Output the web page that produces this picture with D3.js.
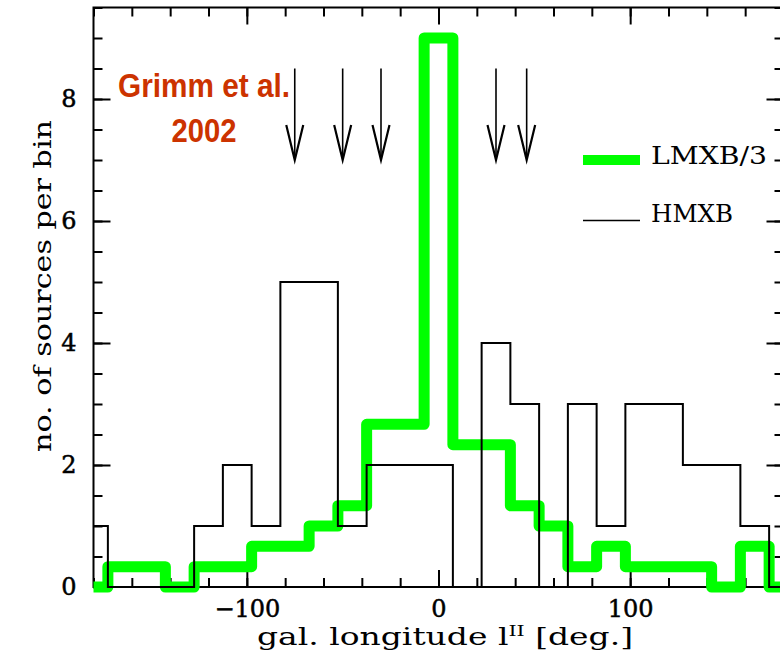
<!DOCTYPE html>
<html>
<head>
<meta charset="utf-8">
<script src="https://cdn.jsdelivr.net/npm/d3@7"></script>
<style>
  body { margin: 0; background: #fff; }
  svg { display: block; }
  .tick text { font-family: "DejaVu Serif", serif; font-size: 24px; fill: #000; stroke: #000; stroke-width: 0.5; }
  .tick line { stroke: #000; stroke-width: 2; }
  .label { font-family: "DejaVu Serif", serif; font-size: 24px; fill: #000; }
</style>
</head>
<body>
<svg width="780" height="661"></svg>
<script>
// bin centres in galactic longitude (deg), bins 15 deg wide
const binCenters = [-180, -165, -150, -135, -120, -105, -90, -75, -60, -45, -30, -15,
                    0, 15, 30, 45, 60, 75, 90, 105, 120, 135, 150, 165, 180];
// number of LMXB per bin (plotted divided by 3)
const lmxbCounts = [0, 1, 1, 0, 1, 1, 2, 2, 3, 4, 8, 8,
                    27, 7, 7, 4, 3, 1, 2, 1, 1, 1, 0, 2, 0];
// number of HMXB per bin
const hmxbCounts = [1, 0, 0, 0, 1, 2, 1, 5, 5, 1, 2, 2,
                    2, 0, 4, 3, 0, 3, 1, 3, 3, 2, 2, 1, 0];
// spiral arm tangent directions marked with arrows
const arrowLon = [-75, -50, -30, 30, 46];
const arrowTop = 8.5, arrowTip = 7.0;

const xTicksMajor = [-100, 0, 100];
const yTicksMajor = [0, 2, 4, 6, 8];
const binWidth = 15;

var pArea = [93.5, 7.5, 783.5, 587];

var xScale = d3.scaleLinear().domain([-180, 180]).range([pArea[0], pArea[2]]);
var yScale = d3.scaleLinear().domain([0, 9.5]).range([pArea[3], pArea[1]]);

var svg = d3.select("svg");
var g = svg.append("g");

// frame
g.append("rect")
  .attr("x", pArea[0]).attr("y", pArea[1])
  .attr("width", pArea[2] - pArea[0]).attr("height", pArea[3] - pArea[1])
  .attr("fill", "none").attr("stroke", "#000").attr("stroke-width", 2);

function cleanAxis(sel) {
  sel.select(".domain").remove();
}

// minor ticks on all four sides
var xMinor = d3.range(-180, 181, 20);
var yMinor = d3.range(0, 9.51, 0.5);
g.append("g").attr("transform", `translate(0,${pArea[3]})`)
  .call(d3.axisBottom(xScale).tickValues(xMinor).tickSize(-9).tickFormat(""))
  .call(cleanAxis);
g.append("g").attr("transform", `translate(0,${pArea[1]})`)
  .call(d3.axisTop(xScale).tickValues(xMinor).tickSize(-9).tickFormat(""))
  .call(cleanAxis);
g.append("g").attr("transform", `translate(${pArea[0]},0)`)
  .call(d3.axisLeft(yScale).tickValues(yMinor).tickSize(-9).tickFormat(""))
  .call(cleanAxis);
g.append("g").attr("transform", `translate(${pArea[2]},0)`)
  .call(d3.axisRight(yScale).tickValues(yMinor).tickSize(-9).tickFormat(""))
  .call(cleanAxis);

// major ticks + labels
g.append("g").attr("transform", `translate(0,${pArea[3]})`)
  .call(d3.axisBottom(xScale).tickValues(xTicksMajor).tickSize(-17).tickPadding(13))
  .call(cleanAxis);
g.append("g").attr("transform", `translate(0,${pArea[1]})`)
  .call(d3.axisTop(xScale).tickValues(xTicksMajor).tickSize(-17).tickFormat(""))
  .call(cleanAxis);
g.append("g").attr("transform", `translate(${pArea[0]},0)`)
  .call(d3.axisLeft(yScale).tickValues(yTicksMajor).tickSize(-17).tickPadding(17))
  .call(cleanAxis);
g.append("g").attr("transform", `translate(${pArea[2]},0)`)
  .call(d3.axisRight(yScale).tickValues(yTicksMajor).tickSize(-17).tickFormat(""))
  .call(cleanAxis);

// axis titles
var xt = g.append("text")
  .attr("class", "label")
  .attr("x", 445).attr("y", 645)
  .attr("font-size", 26)
  .attr("text-anchor", "middle")
  .attr("textLength", 376).attr("lengthAdjust", "spacingAndGlyphs");
xt.append("tspan").text("gal. longitude l");
xt.append("tspan").attr("dy", -9).attr("font-size", 15).text("II");
xt.append("tspan").attr("dy", 9).text(" [deg.]");

g.append("text")
  .attr("class", "label")
  .attr("font-size", 26)
  .attr("transform", "translate(51,286) rotate(-90)")
  .attr("text-anchor", "middle")
  .attr("textLength", 332).attr("lengthAdjust", "spacingAndGlyphs")
  .text("no. of sources per bin");

// histograms
function steps(values, scaleBy) {
  var pts = [];
  binCenters.forEach((c, i) => {
    var v = values[i] / scaleBy;
    pts.push([Math.max(c - binWidth / 2, -180), v]);
    pts.push([Math.min(c + binWidth / 2, 180), v]);
  });
  return pts;
}

var line = d3.line()
  .x(d => xScale(d[0]))
  .y(d => yScale(d[1]));

g.append("path")
  .datum(steps(lmxbCounts, 3))
  .attr("d", line)
  .attr("fill", "none")
  .attr("stroke", "#00ff00")
  .attr("stroke-width", 11)
  .attr("stroke-linejoin", "round");

g.append("path")
  .datum(steps(hmxbCounts, 1))
  .attr("d", line)
  .attr("fill", "none")
  .attr("stroke", "#000")
  .attr("stroke-width", 2);

// arrows
var arrows = g.selectAll(".arrow").data(arrowLon).enter()
  .append("g").attr("class", "arrow");
arrows.append("line")
  .attr("x1", d => xScale(d)).attr("x2", d => xScale(d))
  .attr("y1", yScale(arrowTop)).attr("y2", yScale(arrowTip) - 2)
  .attr("stroke", "#000").attr("stroke-width", 1.6);
arrows.append("path")
  .attr("d", d => {
    var x = xScale(d), yt = yScale(arrowTip);
    return `M${x - 8.5},${yt - 35} L${x},${yt} L${x + 8.5},${yt - 35}`;
  })
  .attr("fill", "none").attr("stroke", "#000").attr("stroke-width", 2.2)
  .attr("stroke-miterlimit", 20);

// annotation
var ann = g.append("g")
  .attr("font-family", "'Liberation Sans', Arial, sans-serif")
  .attr("font-weight", "bold")
  .attr("font-size", 34)
  .attr("fill", "#cc3300")
  .attr("text-anchor", "middle");
ann.append("text").attr("x", 204).attr("y", 97)
  .attr("textLength", 172).attr("lengthAdjust", "spacingAndGlyphs")
  .text("Grimm et al.");
ann.append("text").attr("x", 204).attr("y", 142)
  .attr("textLength", 65).attr("lengthAdjust", "spacingAndGlyphs")
  .text("2002");

// legend
var legend = g.append("g");
legend.append("line")
  .attr("x1", 583).attr("x2", 640).attr("y1", 160).attr("y2", 160)
  .attr("stroke", "#00ff00").attr("stroke-width", 10);
legend.append("text").attr("class", "label")
  .attr("x", 651).attr("y", 164)
  .attr("textLength", 116).attr("lengthAdjust", "spacingAndGlyphs")
  .text("LMXB/3");
legend.append("line")
  .attr("x1", 583).attr("x2", 640).attr("y1", 220.5).attr("y2", 220.5)
  .attr("stroke", "#000").attr("stroke-width", 1.6);
legend.append("text").attr("class", "label")
  .attr("x", 651).attr("y", 222)
  .attr("textLength", 82).attr("lengthAdjust", "spacingAndGlyphs")
  .text("HMXB");
</script>
</body>
</html>
